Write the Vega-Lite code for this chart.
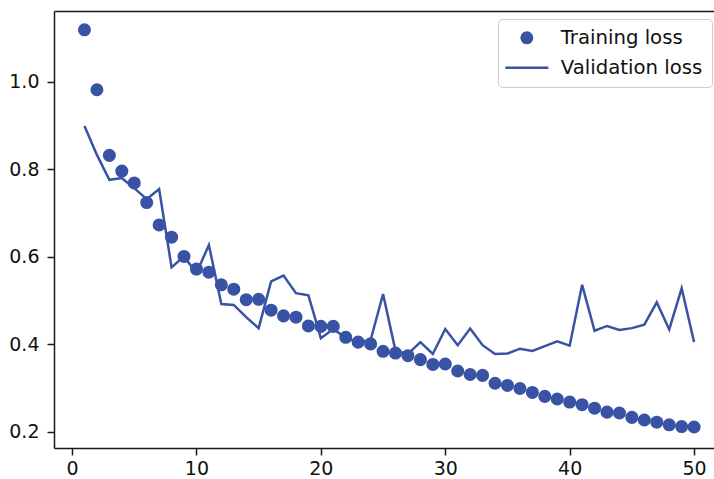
{
  "$schema": "https://vega.github.io/schema/vega-lite/v6.json",
  "width": 660,
  "height": 437,
  "autosize": "none",
  "padding": {"left": 54, "top": 11, "right": 0, "bottom": 31},
  "background": "white",
  "config": {
    "view": {"stroke": null},
    "font": "DejaVu Sans",
    "axis": {
      "grid": false,
      "domainColor": "#1a1a1a",
      "domainWidth": 1.5,
      "tickColor": "#1a1a1a",
      "tickWidth": 1.5,
      "tickSize": 7,
      "labelFont": "DejaVu Sans",
      "labelFontSize": 19,
      "labelColor": "#111111",
      "title": null
    }
  },
  "data": {
    "values": [
      {"epoch": 1, "train": 1.119, "val": 0.899},
      {"epoch": 2, "train": 0.982, "val": 0.833},
      {"epoch": 3, "train": 0.832, "val": 0.776},
      {"epoch": 4, "train": 0.796, "val": 0.780},
      {"epoch": 5, "train": 0.769, "val": 0.757},
      {"epoch": 6, "train": 0.724, "val": 0.732},
      {"epoch": 7, "train": 0.673, "val": 0.755},
      {"epoch": 8, "train": 0.645, "val": 0.576},
      {"epoch": 9, "train": 0.601, "val": 0.601},
      {"epoch": 10, "train": 0.572, "val": 0.563},
      {"epoch": 11, "train": 0.565, "val": 0.627},
      {"epoch": 12, "train": 0.536, "val": 0.492},
      {"epoch": 13, "train": 0.526, "val": 0.490},
      {"epoch": 14, "train": 0.502, "val": 0.462},
      {"epoch": 15, "train": 0.503, "val": 0.437},
      {"epoch": 16, "train": 0.478, "val": 0.544},
      {"epoch": 17, "train": 0.465, "val": 0.557},
      {"epoch": 18, "train": 0.462, "val": 0.517},
      {"epoch": 19, "train": 0.442, "val": 0.512},
      {"epoch": 20, "train": 0.441, "val": 0.414},
      {"epoch": 21, "train": 0.441, "val": 0.435},
      {"epoch": 22, "train": 0.416, "val": 0.415},
      {"epoch": 23, "train": 0.405, "val": 0.405},
      {"epoch": 24, "train": 0.401, "val": 0.410},
      {"epoch": 25, "train": 0.384, "val": 0.515},
      {"epoch": 26, "train": 0.380, "val": 0.385},
      {"epoch": 27, "train": 0.374, "val": 0.378},
      {"epoch": 28, "train": 0.365, "val": 0.405},
      {"epoch": 29, "train": 0.354, "val": 0.378},
      {"epoch": 30, "train": 0.355, "val": 0.435},
      {"epoch": 31, "train": 0.339, "val": 0.398},
      {"epoch": 32, "train": 0.331, "val": 0.436},
      {"epoch": 33, "train": 0.329, "val": 0.398},
      {"epoch": 34, "train": 0.311, "val": 0.378},
      {"epoch": 35, "train": 0.306, "val": 0.379},
      {"epoch": 36, "train": 0.299, "val": 0.390},
      {"epoch": 37, "train": 0.290, "val": 0.385},
      {"epoch": 38, "train": 0.281, "val": 0.396},
      {"epoch": 39, "train": 0.275, "val": 0.407},
      {"epoch": 40, "train": 0.268, "val": 0.397},
      {"epoch": 41, "train": 0.262, "val": 0.536},
      {"epoch": 42, "train": 0.254, "val": 0.431},
      {"epoch": 43, "train": 0.245, "val": 0.442},
      {"epoch": 44, "train": 0.243, "val": 0.433},
      {"epoch": 45, "train": 0.233, "val": 0.437},
      {"epoch": 46, "train": 0.227, "val": 0.445},
      {"epoch": 47, "train": 0.222, "val": 0.496},
      {"epoch": 48, "train": 0.216, "val": 0.434},
      {"epoch": 49, "train": 0.212, "val": 0.528},
      {"epoch": 50, "train": 0.211, "val": 0.405}
    ]
  },
  "layer": [
    {
      "mark": {"type": "point", "filled": true, "opacity": 1, "size": 170},
      "encoding": {
        "x": {
          "field": "epoch", "type": "quantitative",
          "scale": {"domain": [-1.45, 51.6], "nice": false, "zero": false},
          "axis": {"orient": "bottom", "values": [0, 10, 20, 30, 40, 50], "labelPadding": 4, "labelFlush": false}
        },
        "y": {
          "field": "train", "type": "quantitative",
          "scale": {"domain": [0.163, 1.162], "nice": false, "zero": false},
          "axis": {"orient": "left", "values": [0.2, 0.4, 0.6, 0.8, 1.0], "format": ".1f", "labelPadding": 8, "labelFlush": false}
        },
        "shape": {
          "datum": "Training loss",
          "scale": {"domain": ["Training loss", "Validation loss"], "range": ["circle", "M-4.1,0H4.1"]}
        },
        "color": {
          "datum": "Training loss",
          "scale": {"domain": ["Training loss", "Validation loss"], "range": ["#3953a4", "#3953a4"]},
          "legend": {
            "orient": "none",
            "legendX": 444,
            "legendY": 8,
            "title": null,
            "fillColor": "rgba(255,255,255,0.85)",
            "strokeColor": "#cccccc",
            "cornerRadius": 4,
            "padding": 9,
            "labelFont": "DejaVu Sans",
            "labelFontSize": 19.7,
            "labelColor": "#111111",
            "labelOffset": 24,
            "rowPadding": 8,
            "symbolSize": 110,
            "symbolOffset": 10,
            "symbolStrokeWidth": 2.5,
            "symbolOpacity": 1
          }
        }
      }
    },
    {
      "mark": {"type": "line", "strokeWidth": 2.5},
      "encoding": {
        "x": {
          "field": "epoch", "type": "quantitative",
          "axis": {"orient": "top", "labels": false, "ticks": false, "domain": true}
        },
        "y": {"field": "val", "type": "quantitative", "axis": null},
        "color": {"datum": "Validation loss"}
      }
    }
  ],
  "resolve": {"axis": {"x": "independent", "y": "independent"}}
}
